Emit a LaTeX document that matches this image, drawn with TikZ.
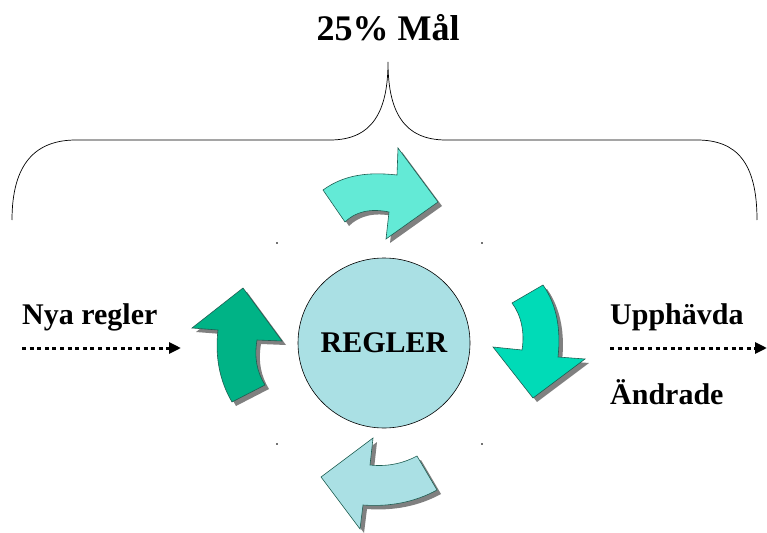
\documentclass[tikz,border=0pt]{standalone}
\usepackage{fontspec}
\setmainfont{Liberation Serif}
\usetikzlibrary{arrows.meta,shapes.geometric}
\definecolor{topcyan}{HTML}{63EAD6}
\definecolor{rightgreen}{HTML}{00DBB7}
\definecolor{leftgreen}{HTML}{00B386}
\definecolor{paleblue}{HTML}{AAE0E4}
\definecolor{edgeteal}{HTML}{1F5E52}
\definecolor{shadowgray}{HTML}{808080}
\begin{document}
\begin{tikzpicture}[x=1pt,y=-1pt,
  curvearrow/.style={draw=edgeteal,line width=0.6pt,line join=miter,
    preaction={fill=shadowgray,transform canvas={shift={(4,4)}}}},
  lbl/.style={font=\bfseries\fontsize{30}{34}\selectfont,inner sep=0pt,anchor=base west},
  dotarrow/.style={line width=3pt,dash pattern=on 4pt off 3.6pt,
    -{Triangle[length=12pt,width=11pt]}},
  speck/.style={fill=black!55}]
\useasboundingbox (0,0) rectangle (767,532);
% brace
\draw[line width=0.7pt] (12,220) .. controls (12,163) and (36,140) .. (76,140)
  -- (330,140) .. controls (372,140) and (388,112) .. (388,62)
  .. controls (388,112) and (404,140) .. (446,140)
  -- (697,140) .. controls (737,140) and (757,163) .. (757,220);
\node[font=\bfseries\fontsize{36}{40}\selectfont,inner sep=0pt,anchor=base] (goal) at (388,41) {25\% Mål};
% centre
\node[ellipse,draw=black,line width=0.6pt,fill=paleblue,minimum width=172pt,minimum height=170pt,
  inner sep=0pt] (regler) at (384,343) {};
\node[font=\bfseries\fontsize{30}{34}\selectfont,inner sep=0pt] (reglertext) at (regler.center) {REGLER};
% bent arrows
\path[curvearrow,fill=topcyan] (323,190) .. controls (345,174) and (370,172) .. (397,175) -- (398,148) -- (438,202)
  -- (386,239) -- (389,212) .. controls (370,208) and (355,212) .. (345,222) -- cycle;
\path[curvearrow,fill=rightgreen] (512,303) -- (543,285) .. controls (557,305) and (561,330) .. (558,357) -- (585,359)
  -- (533,398) -- (493,347) -- (522,350) .. controls (525,332) and (521,315) .. (512,303) -- cycle;
\path[curvearrow,fill=paleblue] (417,456) -- (437,490) .. controls (415,502) and (390,507) .. (363,505) -- (360,529)
  -- (321,477) -- (373,438) -- (370,465) .. controls (388,467) and (404,463) .. (417,456) -- cycle;
\path[curvearrow,fill=leftgreen] (232,402) .. controls (219,380) and (215,355) .. (218,330) -- (192,328) -- (243,288)
  -- (282,341) -- (257,340) .. controls (254,358) and (257,372) .. (265,385) -- cycle;
% specks
\fill[speck] (276,242) rectangle (278,244);
\fill[speck] (481,242) rectangle (483,244);
\fill[speck] (276,443) rectangle (278,445);
\fill[speck] (481,443) rectangle (483,445);
% side labels and dotted arrows
\node[lbl] (nya) at (22,324) {Nya regler};
\node[lbl] (upp) at (610,324) {Upphävda};
\node[lbl] (andr) at (610,404) {Ändrade};
\coordinate (inA) at (22,348);
\coordinate (inB) at (181,348);
\coordinate (outA) at (610,348);
\coordinate (outB) at (767,348);
\draw[dotarrow] (inA) -- (inB);
\draw[dotarrow] (outA) -- (outB);
\end{tikzpicture}
\end{document}
